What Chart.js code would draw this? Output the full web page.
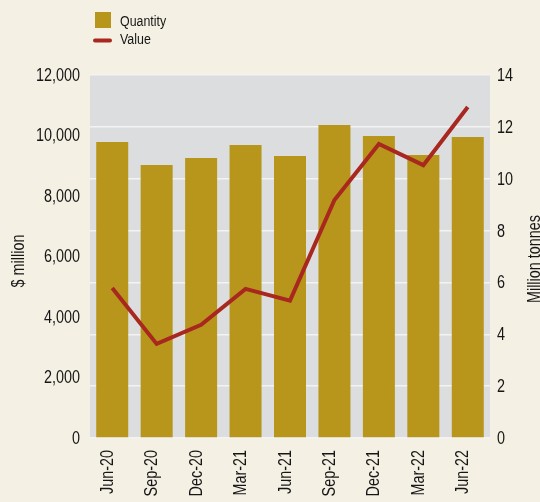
<!DOCTYPE html>
<html>
<head>
<meta charset="utf-8">
<script src="https://cdn.jsdelivr.net/npm/chart.js@4.4.1/dist/chart.umd.min.js"></script>
<style>
  html, body { margin: 0; padding: 0; background: #F4F1E4; }
  #wrap { width: 540px; height: 502px; }
</style>
</head>
<body>
<div id="wrap"><canvas id="c" width="540" height="502"></canvas></div>
<script>
// Quarterly series
const categories = ['Jun-20','Sep-20','Dec-20','Mar-21','Jun-21','Sep-21','Dec-21','Mar-22','Jun-22'];
const quantityMt = [11.42, 10.53, 10.80, 11.30, 10.88, 12.07, 11.65, 10.91, 11.61];   // million tonnes
const valueMillion = [4960, 3110, 3740, 4930, 4540, 7870, 9720, 9020, 10940];        // $ million
const leftTicks = [0, 2000, 4000, 6000, 8000, 10000, 12000];
const rightTicks = [0, 2, 4, 6, 8, 10, 12, 14];
const leftTitle = '$ million';
const rightTitle = 'Million tonnes';

const FONT = "'Liberation Sans', Arial, sans-serif";
const SQUEEZE = 0.8;           // narrow letterforms
const TEXT = '#161616';
const BAR = '#B8961C';
const LINE = '#A8281F';

// draw a string narrowed along its own direction
function narrowText(ctx, str, x, y, opts) {
  ctx.save();
  ctx.translate(x, y);
  if (opts.angle) ctx.rotate(opts.angle);
  ctx.scale(SQUEEZE, 1);
  ctx.font = opts.size + 'px ' + FONT;
  ctx.textAlign = opts.align || 'left';
  ctx.textBaseline = opts.baseline || 'alphabetic';
  ctx.fillStyle = TEXT;
  ctx.fillText(str, 0, 0);
  ctx.restore();
}

// grey plot panel behind the marks
const panel = {
  id: 'panel',
  beforeDraw(chart) {
    const { ctx, chartArea: a } = chart;
    ctx.save();
    ctx.fillStyle = '#DCDDDF';
    ctx.fillRect(a.left, a.top, a.right - a.left, a.bottom - a.top);
    ctx.restore();
  }
};

// tick labels, stacked legend and axis titles
const extras = {
  id: 'extras',
  afterDraw(chart) {
    const { ctx, chartArea: a, scales } = chart;
    const ds = chart.data.datasets;

    // left axis labels
    scales.y.ticks.forEach(t => {
      narrowText(ctx, t.value.toLocaleString('en-US'), a.left - 10, scales.y.getPixelForValue(t.value) + 1,
        { size: 18, align: 'right', baseline: 'middle' });
    });
    // right axis labels
    scales.y2.ticks.forEach(t => {
      narrowText(ctx, String(t.value), a.right + 7, scales.y2.getPixelForValue(t.value) + 1,
        { size: 18, align: 'left', baseline: 'middle' });
    });
    // category labels, reading bottom to top
    chart.data.labels.forEach((lab, i) => {
      narrowText(ctx, lab, scales.x.getPixelForTick(i) + 0.5, a.bottom + 12,
        { size: 18, align: 'right', baseline: 'alphabetic', angle: -Math.PI / 2 });
    });

    // legend
    ctx.save();
    ctx.fillStyle = ds[1].backgroundColor;
    ctx.fillRect(95, 12, 16, 16);
    ctx.strokeStyle = ds[0].borderColor;
    ctx.lineWidth = 4;
    ctx.lineCap = 'round';
    ctx.beginPath();
    ctx.moveTo(95, 40.5);
    ctx.lineTo(110, 40.5);
    ctx.stroke();
    ctx.restore();
    narrowText(ctx, ds[1].label, 120, 25.5, { size: 15.5 });
    narrowText(ctx, ds[0].label, 120, 43.5, { size: 15.5 });

    // axis titles, both reading bottom to top
    narrowText(ctx, leftTitle, 23.5, 261, { size: 18, align: 'center', angle: -Math.PI / 2 });
    narrowText(ctx, rightTitle, 540, 259, { size: 18, align: 'center', angle: -Math.PI / 2 });
  }
};

const hidden = 'rgba(0,0,0,0)';

new Chart(document.getElementById('c'), {
  data: {
    labels: categories,
    datasets: [
      {
        type: 'line',
        label: 'Value',
        data: valueMillion,
        yAxisID: 'y',
        borderColor: LINE,
        borderWidth: 4,
        pointRadius: 0,
        borderJoinStyle: 'miter',
        borderCapStyle: 'butt',
        tension: 0,
        order: 0
      },
      {
        type: 'bar',
        label: 'Quantity',
        data: quantityMt,
        yAxisID: 'y2',
        backgroundColor: BAR,
        borderWidth: 0,
        categoryPercentage: 1,
        barPercentage: 0.72,
        order: 1
      }
    ]
  },
  options: {
    responsive: false,
    animation: false,
    devicePixelRatio: 1,
    layout: { padding: { top: 75, left: 0, right: 0, bottom: 0 } },
    plugins: { legend: { display: false }, tooltip: { enabled: false } },
    scales: {
      x: {
        grid: { display: false, drawTicks: false },
        border: { display: false },
        ticks: { color: hidden, font: { family: FONT, size: 17 }, minRotation: 90, maxRotation: 90, autoSkip: false },
        afterFit(s) { s.height = 64; }
      },
      y: {
        position: 'left',
        min: 0,
        max: 12000,
        grid: { display: false, drawTicks: false },
        border: { display: false },
        afterBuildTicks(s) { s.ticks = leftTicks.map(v => ({ value: v })); },
        ticks: { color: hidden, font: { family: FONT, size: 17 } },
        afterFit(s) { s.width = 90; }
      },
      y2: {
        position: 'right',
        min: 0,
        max: 14,
        grid: { color: '#F3F3F3', lineWidth: 1.5, drawTicks: false },
        border: { display: false },
        afterBuildTicks(s) { s.ticks = rightTicks.map(v => ({ value: v })); },
        ticks: { color: hidden, font: { family: FONT, size: 17 } },
        afterFit(s) { s.width = 50; }
      }
    }
  },
  plugins: [panel, extras]
});
</script>
</body>
</html>
